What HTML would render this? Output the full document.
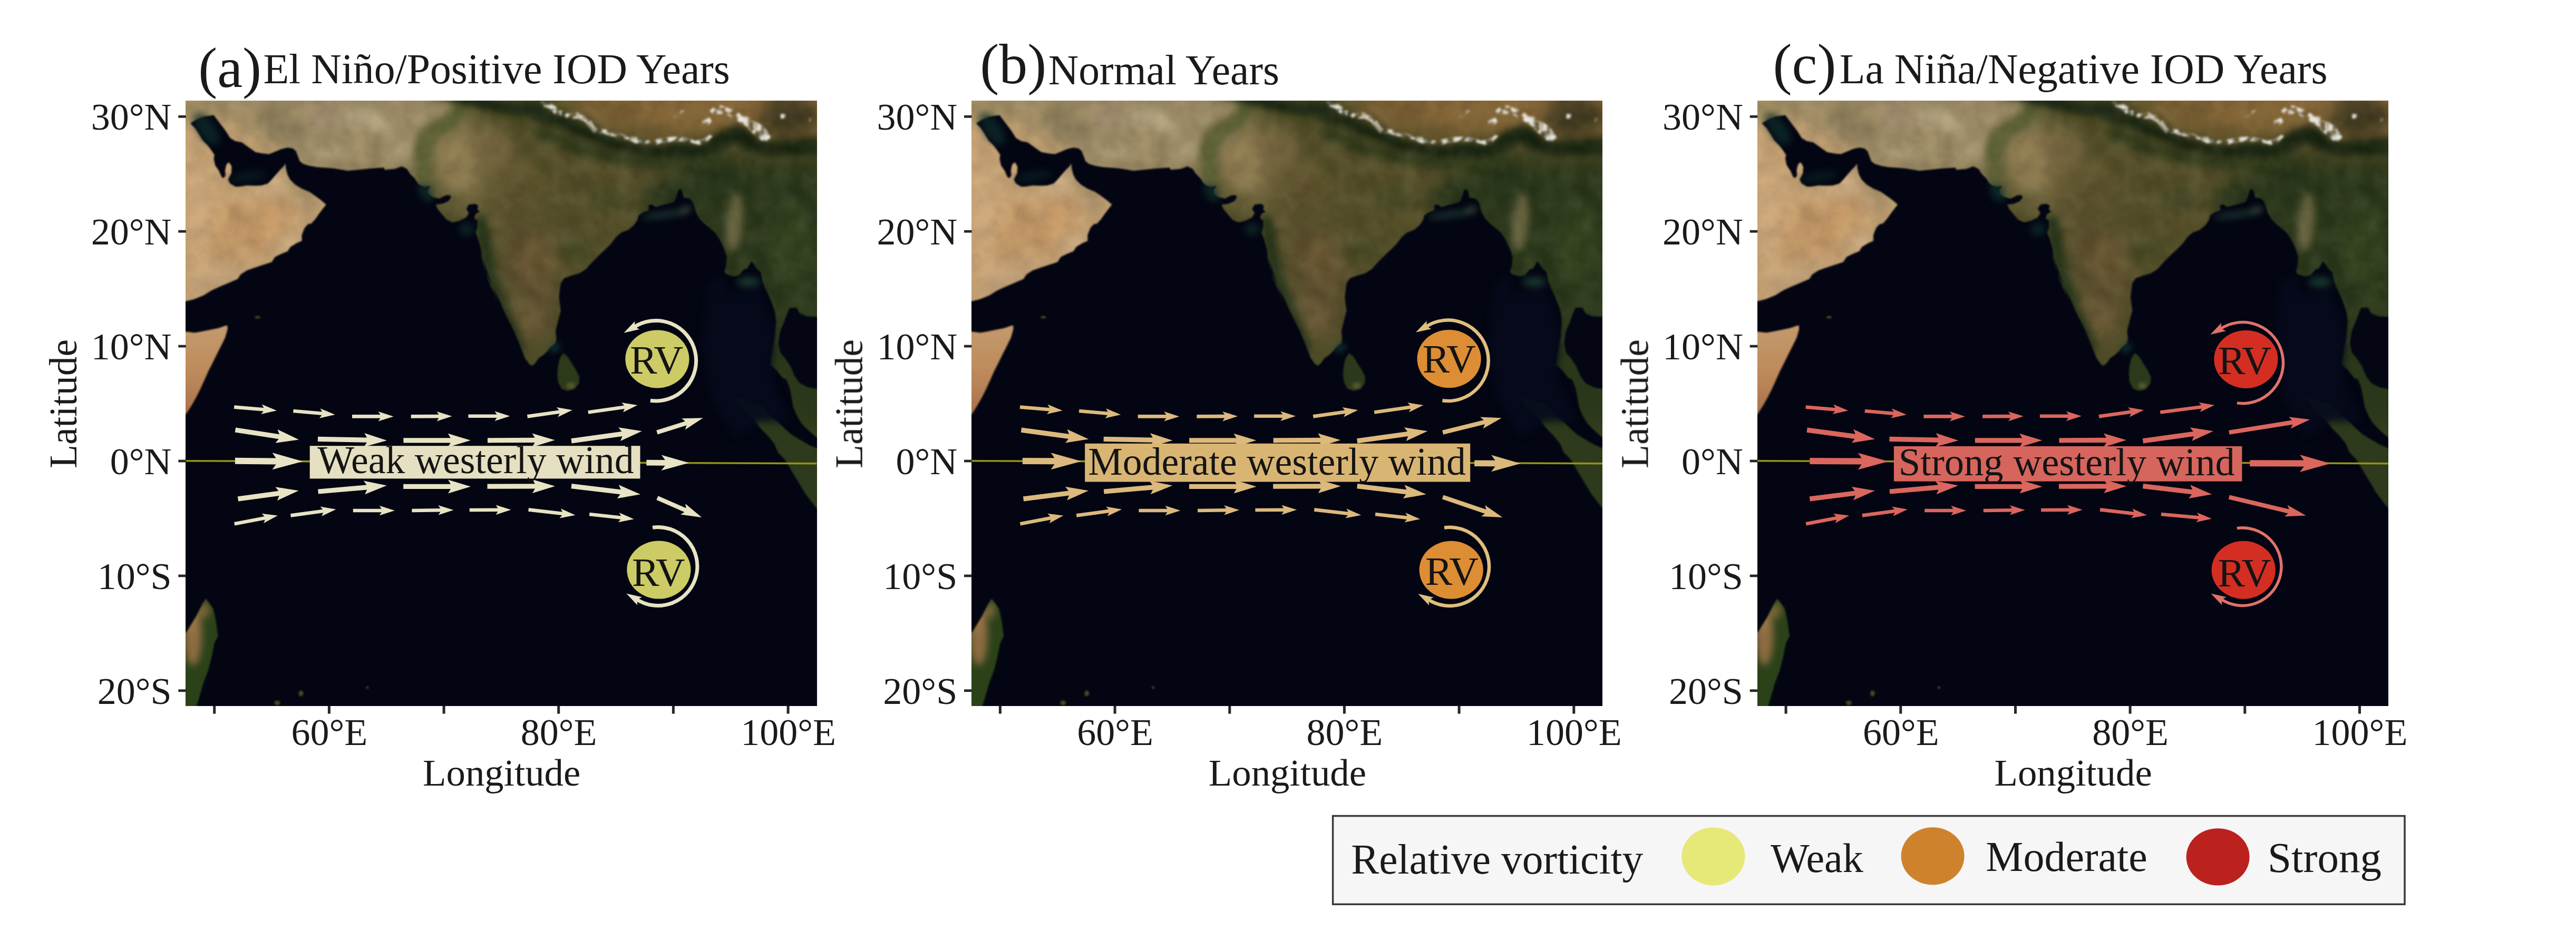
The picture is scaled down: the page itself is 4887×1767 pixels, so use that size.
<!DOCTYPE html>
<html><head><meta charset="utf-8"><title>figure</title>
<style>html,body{margin:0;padding:0;background:#fff;}svg{display:block;font-family:"Liberation Serif",serif;}</style>
</head><body>
<svg width="4887" height="1767" viewBox="0 0 4887 1767">
<defs>
<clipPath id="mapclip"><rect x="352.8" y="191.2" width="1196.5" height="1148.4"/></clipPath>
<filter id="b30" color-interpolation-filters="sRGB" x="-20%" y="-20%" width="140%" height="140%"><feGaussianBlur stdDeviation="30"/></filter>
<filter id="b14" color-interpolation-filters="sRGB" x="-20%" y="-20%" width="140%" height="140%"><feGaussianBlur stdDeviation="14"/></filter>
<filter id="b7" color-interpolation-filters="sRGB" x="-20%" y="-20%" width="140%" height="140%"><feGaussianBlur stdDeviation="7"/></filter>
<filter id="b3" color-interpolation-filters="sRGB" x="-20%" y="-20%" width="140%" height="140%"><feGaussianBlur stdDeviation="3"/></filter>
<filter id="b1" color-interpolation-filters="sRGB" x="-5%" y="-5%" width="110%" height="110%"><feGaussianBlur stdDeviation="1.4"/></filter>
<filter id="snowf" color-interpolation-filters="sRGB" x="-5%" y="-20%" width="110%" height="140%"><feTurbulence type="fractalNoise" baseFrequency="0.09" numOctaves="2" seed="11" result="t"/><feColorMatrix in="t" type="matrix" values="0 0 0 0 1  0 0 0 0 1  0 0 0 0 1  5 0 0 0 -1.85" result="m"/><feComposite in="SourceGraphic" in2="m" operator="in" result="c"/><feGaussianBlur in="c" stdDeviation="1.6"/></filter>
<filter id="tex" color-interpolation-filters="sRGB" x="0" y="0" width="100%" height="100%"><feTurbulence type="fractalNoise" baseFrequency="0.03" numOctaves="3" seed="7" result="n"/><feColorMatrix in="n" type="matrix" values="0 0 0 0 0  0 0 0 0 0  0 0 0 0 0  0.9 0.9 0 0 -0.62"/></filter>
<filter id="tex2" color-interpolation-filters="sRGB" x="0" y="0" width="100%" height="100%"><feTurbulence type="fractalNoise" baseFrequency="0.03" numOctaves="3" seed="23" result="n"/><feColorMatrix in="n" type="matrix" values="0 0 0 0 1  0 0 0 0 0.95  0 0 0 0 0.8  0.9 0.9 0 0 -0.68"/></filter>
<g id="map">
<g clip-path="url(#mapclip)">
<g filter="url(#b1)">
<rect x="342.8" y="181.2" width="1216" height="1168" fill="#4a4b24"/>
<g filter="url(#b30)">
<polygon points="298,138 563,138 563,287 659,358 659,641 298,641" fill="#c9a576"/>
<polygon points="389,138 904,138 866,229 814,274 801,358 563,358 511,274" fill="#9d8b64"/>
<polygon points="820,248 917,229 949,319 917,403 840,383" fill="#8c7a50"/>
<polygon points="1020,138 1607,138 1607,261 1394,261 1252,261 1123,235" fill="#8a6838"/>
<polygon points="904,216 1059,261 1284,300 1304,403 1188,461 1078,551 1059,706 930,551 930,403" fill="#554f29"/>
<polygon points="930,435 1059,435 1072,551 1027,680 969,602" fill="#5f5130"/>
<polygon points="1278,287 1607,306 1607,834 1478,834 1368,551 1297,403" fill="#2a371a"/>
</g>
<g filter="url(#b14)">
<ellipse cx="472.4" cy="434.9" rx="90.2" ry="61.2" fill="#c79a68" opacity="0.9" transform="rotate(-20 472.4 434.9)"/>
<ellipse cx="369.3" cy="402.7" rx="32.2" ry="109.6" fill="#d1ab7e" opacity="0.85"/>
<ellipse cx="511.1" cy="351.1" rx="35.4" ry="22.6" fill="#d0b189" opacity="0.75" transform="rotate(-30 511.1 351.1)"/>
<ellipse cx="582.0" cy="376.9" rx="29.0" ry="14.2" fill="#a58e68" opacity="0.9" transform="rotate(40 582.0 376.9)"/>
<ellipse cx="549.8" cy="460.7" rx="35.4" ry="19.3" fill="#cbae88" opacity="0.75" transform="rotate(-35 549.8 460.7)"/>
<ellipse cx="433.8" cy="525.1" rx="70.9" ry="22.6" fill="#c2a27a" opacity="0.9" transform="rotate(-22 433.8 525.1)"/>
<ellipse cx="375.8" cy="209.3" rx="38.7" ry="22.6" fill="#8f8359" opacity="0.9"/>
<ellipse cx="698.0" cy="228.7" rx="51.6" ry="19.3" fill="#beae8d" opacity="0.8" transform="rotate(15 698.0 228.7)"/>
<ellipse cx="620.7" cy="286.7" rx="58.0" ry="11.6" fill="#b3a280" opacity="0.8" transform="rotate(5 620.7 286.7)"/>
<ellipse cx="756.0" cy="286.7" rx="32.2" ry="12.9" fill="#bcac8b" opacity="0.8"/>
<ellipse cx="536.9" cy="241.6" rx="54.8" ry="24.5" fill="#8c7c5c" opacity="0.9" transform="rotate(25 536.9 241.6)"/>
<ellipse cx="614.2" cy="222.2" rx="25.8" ry="18.0" fill="#ad917f" opacity="0.8"/>
<ellipse cx="453.1" cy="215.8" rx="51.6" ry="19.3" fill="#9a8963" opacity="0.9" transform="rotate(25 453.1 215.8)"/>
<ellipse cx="794.7" cy="228.7" rx="22.6" ry="19.3" fill="#ad9d7b" opacity="0.7"/>
<ellipse cx="865.6" cy="299.6" rx="38.7" ry="48.3" fill="#958153" opacity="0.85" transform="rotate(15 865.6 299.6)"/>
<ellipse cx="930.0" cy="286.7" rx="45.1" ry="45.1" fill="#7d6c44" opacity="0.7"/>
<ellipse cx="981.6" cy="325.3" rx="38.7" ry="25.8" fill="#6a5c36" opacity="0.6"/>
<ellipse cx="994.5" cy="357.6" rx="38.7" ry="25.8" fill="#62532e" opacity="0.8"/>
<ellipse cx="1091.1" cy="402.7" rx="45.1" ry="25.8" fill="#525028" opacity="0.8"/>
<ellipse cx="1155.6" cy="376.9" rx="38.7" ry="19.3" fill="#444a25" opacity="0.8"/>
<ellipse cx="949.3" cy="402.7" rx="19.3" ry="38.7" fill="#5e5130" opacity="0.8"/>
<ellipse cx="1013.8" cy="492.9" rx="32.2" ry="38.7" fill="#6f5b35" opacity="0.9"/>
<ellipse cx="1004.1" cy="602.5" rx="24.5" ry="38.7" fill="#6c5a35" opacity="0.9"/>
<ellipse cx="1091.1" cy="473.6" rx="32.2" ry="22.6" fill="#434a24" opacity="0.85"/>
<ellipse cx="1278.0" cy="383.3" rx="58.0" ry="45.1" fill="#28361a" opacity="0.95"/>
<ellipse cx="1355.3" cy="338.2" rx="38.7" ry="25.8" fill="#243117" opacity="0.9"/>
<ellipse cx="1503.6" cy="460.7" rx="45.1" ry="77.3" fill="#33421f" opacity="0.9"/>
<ellipse cx="1510.0" cy="602.5" rx="32.2" ry="58.0" fill="#2f3d1d" opacity="0.9"/>
<ellipse cx="1155.6" cy="215.8" rx="51.6" ry="16.1" fill="#735a30" opacity="0.8" transform="rotate(10 1155.6 215.8)"/>
<ellipse cx="1316.7" cy="222.2" rx="58.0" ry="19.3" fill="#866a3a" opacity="0.8"/>
<ellipse cx="1497.1" cy="222.2" rx="58.0" ry="38.7" fill="#3e381e" opacity="0.95"/>
</g>
<g filter="url(#b7)">
<polygon points="869,184 911,184 872,238 830,264 817,300 824,345 795,345 783,293 796,248 843,219" fill="#5c6034"/>
<polygon points="810,181 927,181 950,195 1025,195 1052,216 1090,225 1122,248 1160,258 1206,272 1239,277 1276,270 1327,275 1351,259 1369,248 1393,237 1407,237 1425,251 1444,267 1462,270 1486,267 1556,260 1556,295 1486,295 1451,297 1416,285 1393,274 1369,288 1323,298 1276,298 1236,298 1183,289 1136,275 1090,256 1043,238 997,221 950,213 880,199" fill="#17230f"/>
<polygon points="1020,237 1113,274 1206,297 1299,302 1369,292 1369,320 1276,325 1183,316 1090,292 1020,260" fill="#2f3a1a" opacity="0.9"/>
<polygon points="898,409 920,409 938,499 967,590 998,664 978,670 946,596 917,512" fill="#27351a"/>
<ellipse cx="1394.0" cy="422.0" rx="15.5" ry="54.8" fill="#6a6640" opacity="0.95" transform="rotate(5 1394.0 422.0)"/>
<ellipse cx="1090" cy="206" rx="5" ry="3.5" fill="#3a3020" opacity="0.7"/>
<ellipse cx="1148" cy="197" rx="5" ry="3.5" fill="#3a3020" opacity="0.7"/>
<ellipse cx="1181" cy="200" rx="5" ry="3.5" fill="#3a3020" opacity="0.7"/>
<ellipse cx="1199" cy="212" rx="5" ry="3.5" fill="#3a3020" opacity="0.7"/>
<ellipse cx="1206" cy="196" rx="5" ry="3.5" fill="#3a3020" opacity="0.7"/>
<ellipse cx="1288" cy="205" rx="5" ry="3.5" fill="#3a3020" opacity="0.7"/>
</g>
<rect x="352.8" y="191.2" width="1196" height="460" filter="url(#tex)" opacity="0.17"/>
<rect x="352.8" y="191.2" width="1196" height="460" filter="url(#tex2)" opacity="0.10"/>
<g filter="url(#snowf)" fill="#f0f0ec" opacity="0.95">
<polygon points="1025,193 1039,195 1052,199 1059,209 1071,211 1080,216 1094,213 1108,218 1113,225 1122,230 1127,239 1136,245 1150,246 1164,251 1178,254 1192,258 1206,260 1218,266 1236,267 1253,263 1271,260 1288,259 1304,262 1318,267 1332,265 1346,256 1352,258 1344,267 1327,275 1309,270 1292,268 1276,269 1257,270 1239,277 1225,272 1206,272 1192,265 1174,260 1160,258 1143,253 1127,252 1118,241 1111,232 1099,225 1087,225 1076,223 1062,218 1052,216 1043,206 1032,202" fill="#f0f0ec"/>
<polygon points="1346,211 1355,202 1369,200 1383,206 1397,211 1407,218 1421,223 1434,230 1446,239 1455,248 1462,260 1458,269 1444,267 1437,258 1425,251 1418,241 1407,234 1393,225 1379,218 1365,216 1355,218" fill="#f0f0ec"/>
<polygon points="1332,230 1346,223 1351,232 1341,239 1332,237" fill="#f0f0ec"/>
<polygon points="1276,223 1292,210 1299,209 1285,220 1278,226" fill="#f0f0ec"/>
<polygon points="1481,216 1490,217 1489,225 1481,225" fill="#f0f0ec"/>
<polygon points="1535,223 1540,223 1539,234 1535,233" fill="#f0f0ec"/>
</g>
<g filter="url(#b3)">
<ellipse cx="1090" cy="219" rx="4" ry="5" fill="#8a6a3a" opacity="0.85"/>
<ellipse cx="1132" cy="242" rx="4" ry="5" fill="#3a4020" opacity="0.85"/>
<ellipse cx="1171" cy="256" rx="4" ry="5" fill="#6a5530" opacity="0.85"/>
<ellipse cx="1218" cy="268" rx="4" ry="5" fill="#2a3818" opacity="0.85"/>
<ellipse cx="1262" cy="266" rx="4" ry="5" fill="#5a4a28" opacity="0.85"/>
<ellipse cx="1299" cy="265" rx="4" ry="5" fill="#2a3818" opacity="0.85"/>
<ellipse cx="1337" cy="268" rx="4" ry="5" fill="#5a4a28" opacity="0.85"/>
<ellipse cx="1388" cy="216" rx="4" ry="5" fill="#5a4a2a" opacity="0.85"/>
<ellipse cx="1423" cy="234" rx="4" ry="5" fill="#4a4226" opacity="0.85"/>
<ellipse cx="1446" cy="253" rx="4" ry="5" fill="#3a3a20" opacity="0.85"/>
</g>
<polygon points="352.6,571.7 367.2,568.2 386.5,560.5 401.6,551.0 418.8,543.3 436.0,536.0 451.0,529.5 456.6,520.9 468.2,513.2 483.2,508.0 498.3,502.9 515.5,497.3 521.9,487.4 532.7,482.3 545.6,477.1 551.1,468.5 562.7,461.6 572.6,457.3 572.6,445.7 577.8,432.8 584.2,425.5 590.7,424.2 598.4,415.6 605.7,404.9 613.0,395.4 618.6,388.6 618.1,387.7 609.5,380.3 599.6,372.9 587.2,364.2 572.4,358.0 560.0,350.6 550.2,340.7 545.2,330.9 542.7,321.0 541.5,310.6 537.8,316.0 530.4,323.4 523.0,332.1 515.6,340.7 508.2,348.2 495.8,351.9 483.4,352.6 468.6,351.9 453.8,354.3 446.4,354.3 436.5,348.2 432.8,340.7 435.3,335.8 439.0,328.4 439.5,316.0 435.3,309.1 432.8,308.6 429.1,313.6 427.1,323.4 427.8,333.3 424.1,338.3 420.4,335.8 415.5,324.7 408.1,313.6 405.6,301.2 406.8,293.8 401.9,286.4 394.5,276.5 384.6,266.6 377.2,254.2 369.8,243.1 361.1,234.0 372.2,227.1 387.1,220.9 405.6,218.4 411.8,227.1 420.4,238.2 427.8,248.1 436.5,261.7 446.4,267.8 458.7,270.3 471.1,279.0 484.7,288.8 498.3,291.3 510.6,292.6 523.0,287.6 534.1,282.7 545.2,280.2 555.1,281.4 561.3,286.4 565.0,296.3 568.7,306.1 574.9,311.1 587.2,314.8 602.1,317.3 619.4,318.5 634.2,319.7 659.5,324.1 676.6,322.4 702.4,319.8 728.2,318.1 730.0,322.2 749.3,320.6 762.2,315.8 771.9,320.6 778.3,330.3 786.4,338.3 792.8,348.0 799.3,352.8 807.3,354.4 817.0,352.8 812.2,359.3 812.2,367.3 820.2,373.8 833.1,377.0 846.0,370.6 854.1,370.6 855.7,374.4 850.8,381.8 839.6,386.7 826.7,388.3 829.9,396.3 837.9,406.0 847.6,417.3 858.9,422.1 871.8,418.9 884.7,412.5 889.5,404.4 884.7,396.3 889.5,388.3 900.8,386.7 907.2,389.9 905.6,397.9 910.5,401.2 902.4,406.0 899.2,414.1 905.6,418.9 905.6,431.8 902.4,441.5 907.2,454.3 912.1,470.5 915.3,489.8 920.1,509.1 925.0,528.5 931.4,544.6 939.5,560.7 945.9,576.8 912.2,480.0 915.4,496.1 920.3,512.2 928.3,531.6 938.0,550.9 947.7,570.2 955.7,589.6 965.4,608.9 975.1,628.2 983.1,647.6 989.6,663.7 996.0,679.8 1004.1,691.1 1008.9,694.3 1015.3,689.5 1021.8,679.8 1031.5,673.3 1037.9,666.9 1044.3,658.8 1054.0,650.8 1055.6,641.1 1054.0,628.2 1057.2,615.3 1060.5,602.5 1063.7,589.6 1062.1,576.7 1060.5,563.8 1062.1,550.9 1063.7,538.0 1070.1,528.3 1083.0,523.5 1099.1,518.7 1112.0,510.6 1121.7,499.3 1131.3,489.7 1141.0,480.0 1133.8,486.3 1146.7,475.0 1159.6,462.1 1169.2,449.2 1178.9,441.2 1191.8,436.4 1203.1,426.7 1209.5,417.0 1211.1,409.0 1220.8,402.5 1230.5,399.3 1230.5,389.6 1236.9,388.0 1243.4,392.8 1256.3,389.6 1269.1,386.4 1278.8,383.2 1283.7,371.9 1286.9,360.6 1291.7,359.0 1294.9,365.5 1296.5,375.1 1307.8,376.7 1314.3,383.2 1317.5,392.8 1320.7,404.1 1327.2,415.4 1336.8,425.1 1346.5,433.1 1356.2,441.2 1364.2,452.5 1374.1,472.9 1378.9,489.0 1377.3,505.1 1374.1,516.4 1378.9,521.2 1391.8,524.4 1401.5,522.8 1411.1,511.6 1417.6,509.9 1425.6,495.4 1430.5,501.9 1436.9,511.6 1443.3,516.4 1446.6,534.1 1451.4,547.0 1459.5,563.1 1465.9,579.2 1470.7,595.3 1472.3,611.5 1470.7,627.6 1469.1,643.7 1465.9,659.8 1462.7,679.1 1461.1,692.0 1472.3,701.7 1485.2,717.8 1491.7,720.0 1498.1,736.1 1501.3,752.2 1504.6,771.6 1511.0,787.7 1520.7,803.8 1533.6,816.7 1549.4,830.5 1554.3,830.0 1554.3,1344.6 347.8,1344.6 347.8,571.0" fill="#030512"/>
<polygon points="1498.1,584.1 1511.0,584.1 1517.5,595.3 1530.3,600.2 1554.5,601.8 1554.5,738.7 1533.6,735.5 1517.5,727.5 1507.8,714.6 1499.7,695.2 1490.1,680.7 1480.4,669.5 1476.5,650.1 1480.4,627.6 1488.5,608.2 1493.3,595.3" fill="#040614"/>
<linearGradient id="gsom" x1="0" y1="0" x2="0" y2="1"><stop offset="0" stop-color="#c49a6c"/><stop offset="0.5" stop-color="#bd8a5c"/><stop offset="1" stop-color="#a8704a"/></linearGradient>
<polygon points="343.6,628.3 353.2,629.6 369.3,631.5 382.2,629.3 398.3,626.1 414.4,622.8 427.3,618.3 431.2,617.4 431.8,624.4 427.3,640.6 419.3,656.7 411.2,672.8 403.2,688.9 395.1,705.0 388.0,721.1 380.6,737.2 372.6,753.3 364.5,767.8 356.4,780.7 352.6,786.2 343.6,795.2" fill="url(#gsom)"/>
<clipPath id="cmad"><polygon points="343.6,1207.6 354.8,1197.9 362.9,1185.0 372.6,1168.9 382.2,1149.6 390.3,1136.0 398.3,1146.3 404.8,1156.0 409.6,1178.6 413.5,1207.6 406.7,1220.5 401.6,1246.2 395.1,1272.0 385.4,1297.8 379.0,1320.3 372.6,1341.3 369.3,1349.3 343.6,1349.3"/></clipPath>
<polygon points="343.6,1207.6 354.8,1197.9 362.9,1185.0 372.6,1168.9 382.2,1149.6 390.3,1136.0 398.3,1146.3 404.8,1156.0 409.6,1178.6 413.5,1207.6 406.7,1220.5 401.6,1246.2 395.1,1272.0 385.4,1297.8 379.0,1320.3 372.6,1341.3 369.3,1349.3 343.6,1349.3" fill="#2b4219"/>
<g clip-path="url(#cmad)"><g filter="url(#b7)"><ellipse cx="366" cy="1205" rx="17" ry="58" fill="#8e6c42"/><ellipse cx="388" cy="1158" rx="9" ry="16" fill="#80683c"/><ellipse cx="362" cy="1180" rx="12" ry="22" fill="#9a7648"/></g></g>
<polygon points="1068.5,670.1 1076.6,676.6 1084.6,689.5 1092.7,702.3 1099.1,715.2 1098.5,728.1 1089.5,737.8 1076.6,741.7 1065.3,737.8 1058.8,724.9 1057.2,708.8 1058.8,692.7 1062.1,679.8" fill="#2c3a1b"/>
<ellipse cx="1083" cy="732" rx="8" ry="6" fill="#5c5c30" filter="url(#b3)"/>
<polygon points="1395.0,755.4 1404.7,757.1 1420.8,761.9 1436.9,765.1 1449.8,774.8 1459.5,787.7 1475.6,800.6 1488.5,813.4 1501.3,824.7 1517.5,834.4 1533.6,844.1 1554.5,852.8 1554.5,971.3 1549.4,964.9 1536.8,948.8 1527.1,935.9 1517.5,919.8 1507.8,903.7 1498.1,887.6 1488.5,871.5 1475.6,858.6 1469.1,842.5 1456.2,826.3 1443.3,813.4 1430.5,797.3 1414.3,781.2 1401.5,768.3" fill="#2d3b1c"/>
<ellipse cx="571" cy="1316" rx="4.5" ry="5.5" fill="#4c4c22" opacity="0.9"/>
<ellipse cx="526" cy="1334" rx="5.5" ry="4.5" fill="#4c4c22" opacity="0.9"/>
<ellipse cx="697" cy="1305" rx="2.5" ry="2.5" fill="#4c4c22" opacity="0.9"/>
<ellipse cx="488.6" cy="602" rx="5" ry="2.5" fill="#4c4c22" opacity="0.9"/>
<g filter="url(#b7)">
<polygon points="1345,540 1372,520 1380,560 1440,545 1470,640 1462,720 1500,800 1440,800 1395,830 1352,760 1332,660" fill="#060a1c" opacity="0.9"/>
<ellipse cx="392" cy="245" rx="16" ry="36" fill="#0c2c2a" opacity="0.75" transform="rotate(-35 392 245)"/>
<ellipse cx="470" cy="335" rx="36" ry="10" fill="#0a2424" opacity="0.6" transform="rotate(-10 470 335)"/>
<ellipse cx="808" cy="365" rx="12" ry="20" fill="#10342e" opacity="0.7" transform="rotate(-30 808 365)"/>
<ellipse cx="885" cy="435" rx="14" ry="12" fill="#10302a" opacity="0.7"/>
<ellipse cx="1262" cy="407" rx="46" ry="5" fill="#24483a" opacity="0.8" transform="rotate(-8 1262 407)"/>
<ellipse cx="1300" cy="398" rx="12" ry="4" fill="#6f7a5a" opacity="0.7" transform="rotate(-20 1300 398)"/>
<ellipse cx="1420" cy="535" rx="22" ry="9" fill="#1c4434" opacity="0.85"/>
<ellipse cx="1052" cy="660" rx="10" ry="6" fill="#165048" opacity="0.9" transform="rotate(-30 1052 660)"/>
</g>
</g>
</g>
</g>
</defs>
<g transform="translate(0,0)">
<use href="#map"/>
<g fill="#262626"><rect x="338.3" y="218.9" width="14.5" height="4.8"/><rect x="338.3" y="436.8" width="14.5" height="4.8"/><rect x="338.3" y="654.7" width="14.5" height="4.8"/><rect x="338.3" y="872.6" width="14.5" height="4.8"/><rect x="338.3" y="1090.5" width="14.5" height="4.8"/><rect x="338.3" y="1308.4" width="14.5" height="4.8"/><rect x="404.2" y="1339.6" width="5" height="15"/><rect x="621.9" y="1339.6" width="5" height="15"/><rect x="839.6" y="1339.6" width="5" height="15"/><rect x="1057.2" y="1339.6" width="5" height="15"/><rect x="1274.9" y="1339.6" width="5" height="15"/><rect x="1492.6" y="1339.6" width="5" height="15"/></g>
<g font-size="72" fill="#1a1a1a">
<text x="325.5" y="246.2" text-anchor="end">30°N</text>
<text x="325.5" y="464.1" text-anchor="end">20°N</text>
<text x="325.5" y="682.0" text-anchor="end">10°N</text>
<text x="325.5" y="899.9" text-anchor="end">0°N</text>
<text x="325.5" y="1117.8" text-anchor="end">10°S</text>
<text x="325.5" y="1335.7" text-anchor="end">20°S</text>
<text x="624.9" y="1413.8" text-anchor="middle">60°E</text>
<text x="1060.2" y="1413.8" text-anchor="middle">80°E</text>
<text x="1495.6" y="1413.8" text-anchor="middle">100°E</text>
<text x="951.7" y="1491.4" text-anchor="middle" font-size="72.8">Longitude</text>
<text transform="translate(145.0,766.4) rotate(-90)" text-anchor="middle" font-size="73.5">Latitude</text>
</g>
<text x="376.2" y="165.0" font-size="108" fill="#1a1a1a">(a)</text>
<text x="499.4" y="157.6" font-size="79.7" fill="#1a1a1a">El Niño/Positive IOD Years</text>
<line x1="352.8" y1="874.7" x2="1549.3" y2="879.7" stroke="#929218" stroke-width="3.6"/>
<g fill="#e7e3c4">
<polygon points="443.9,775.9 499.8,780.5 495.3,786.1 525.0,779.2 496.8,767.6 500.4,773.9 444.5,769.3"/>
<polygon points="556.1,783.3 610.4,788.1 605.9,793.7 635.6,787.0 607.5,775.2 611.0,781.5 556.7,776.7"/>
<polygon points="668.0,793.7 721.6,793.7 717.6,799.6 746.6,790.4 717.6,781.1 721.6,787.1 668.0,787.1"/>
<polygon points="779.7,793.7 832.5,793.4 828.5,799.4 857.5,790.0 828.5,780.9 832.5,786.8 779.7,787.1"/>
<polygon points="888.5,793.1 942.5,793.1 938.5,799.0 967.5,789.8 938.5,780.5 942.5,786.5 888.5,786.5"/>
<polygon points="1001.0,793.7 1061.5,785.0 1058.4,791.5 1085.8,778.2 1055.8,773.1 1060.6,778.5 1000.0,787.1"/>
<polygon points="1116.3,785.8 1185.0,775.9 1181.9,782.4 1209.3,769.1 1179.3,764.1 1184.1,769.4 1115.3,779.2"/>
<polygon points="445.3,997.4 502.9,986.4 500.1,993.0 526.8,978.4 496.6,974.8 501.6,979.9 444.1,991.0"/>
<polygon points="551.9,981.7 613.2,973.3 610.0,979.8 637.5,966.7 607.5,961.4 612.3,966.8 551.1,975.1"/>
<polygon points="669.8,972.3 723.8,972.3 719.8,978.2 748.8,969.0 719.8,959.8 723.8,965.7 669.8,965.7"/>
<polygon points="781.4,972.3 835.5,971.6 831.6,977.6 860.5,968.0 831.4,959.1 835.5,965.0 781.4,965.7"/>
<polygon points="890.7,971.3 944.5,971.0 940.5,977.0 969.5,967.6 940.5,958.5 944.5,964.4 890.7,964.7"/>
<polygon points="1002.2,970.7 1066.3,978.1 1061.6,983.6 1091.5,977.7 1063.8,965.2 1067.0,971.5 1003.0,964.1"/>
<polygon points="1117.8,979.3 1177.4,985.8 1172.8,991.3 1202.6,985.3 1174.8,972.9 1178.1,979.3 1118.6,972.7"/>
<polygon points="445.7,820.6 528.7,833.2 522.5,840.8 567.0,834.4 526.4,815.1 530.1,824.2 447.1,811.6"/>
<polygon points="602.9,838.0 695.9,839.8 690.8,848.1 734.0,836.0 691.3,822.1 696.1,830.6 603.1,828.8"/>
<polygon points="765.4,840.4 854.8,840.4 849.8,848.8 892.8,835.8 849.8,822.8 854.8,831.2 765.4,831.2"/>
<polygon points="925.0,840.4 1014.6,840.0 1009.7,848.5 1052.6,835.3 1009.5,822.5 1014.6,830.8 925.0,831.2"/>
<polygon points="1084.6,841.4 1180.7,828.0 1176.9,837.0 1217.7,818.2 1173.3,811.2 1179.4,818.9 1083.4,832.2"/>
<polygon points="452.1,951.4 529.7,940.9 525.8,949.9 566.7,931.3 522.4,924.2 528.4,931.8 450.9,942.2"/>
<polygon points="603.9,937.6 696.3,929.5 692.1,938.3 733.8,921.6 689.8,912.4 695.5,920.3 603.1,928.4"/>
<polygon points="765.2,928.0 855.0,928.0 850.0,936.4 893.0,923.4 850.0,910.4 855.0,918.8 765.2,918.8"/>
<polygon points="924.5,927.8 1015.0,927.5 1010.0,935.9 1053.0,922.8 1010.0,909.9 1015.0,918.3 924.5,918.6"/>
<polygon points="1083.5,927.3 1176.7,938.3 1170.8,946.1 1215.0,938.2 1173.8,920.2 1177.8,929.2 1084.5,918.1"/>
<polygon points="1247.6,824.6 1302.5,807.3 1299.9,815.6 1333.7,793.2 1293.1,794.2 1300.0,799.5 1245.2,816.8"/>
<polygon points="1245.4,948.8 1298.5,972.0 1291.1,976.6 1331.3,981.9 1300.1,956.0 1301.8,964.5 1248.6,941.2"/>
<polygon points="446.0,880.8 523.5,881.4 516.4,891.3 574.5,875.8 516.6,859.3 523.5,869.4 446.0,868.8"/>
<polygon points="1226.4,883.5 1261.7,883.7 1254.6,893.1 1307.1,878.6 1254.8,863.4 1261.8,872.9 1226.4,872.7"/>
</g>
<rect x="587.7" y="846.2" width="626.8" height="62.2" fill="#e4e0c1"/>
<text x="902.5" y="897.5" font-size="73.75" text-anchor="middle" fill="#141414">Weak westerly wind</text>
<ellipse cx="1246.9" cy="681.4" rx="60.6" ry="55" fill="#cccb66"/>
<path d="M1233.9,760.2 A76.2,76.2 0 1 0 1201.9,621.5" fill="none" stroke="#e7e3c4" stroke-width="7"/><polygon points="1204.4,609.7 1183.5,631.7 1213.1,625.1 1203.9,620.1" fill="#e7e3c4"/>
<text x="1245.7" y="709.4" font-size="77" text-anchor="middle" fill="#141414">RV</text>
<ellipse cx="1249.9" cy="1081.6" rx="60.6" ry="55" fill="#cccb66"/>
<path d="M1238.1,1001.2 A74.5,74.5 0 1 1 1206.8,1136.8" fill="none" stroke="#e7e3c4" stroke-width="7"/><polygon points="1217.9,1133.2 1188.3,1126.5 1209.2,1148.5 1208.8,1138.1" fill="#e7e3c4"/>
<text x="1249.3" y="1111.7" font-size="77" text-anchor="middle" fill="#141414">RV</text>
</g>
<g transform="translate(1490.7,0)">
<use href="#map"/>
<g fill="#262626"><rect x="338.3" y="218.9" width="14.5" height="4.8"/><rect x="338.3" y="436.8" width="14.5" height="4.8"/><rect x="338.3" y="654.7" width="14.5" height="4.8"/><rect x="338.3" y="872.6" width="14.5" height="4.8"/><rect x="338.3" y="1090.5" width="14.5" height="4.8"/><rect x="338.3" y="1308.4" width="14.5" height="4.8"/><rect x="404.2" y="1339.6" width="5" height="15"/><rect x="621.9" y="1339.6" width="5" height="15"/><rect x="839.6" y="1339.6" width="5" height="15"/><rect x="1057.2" y="1339.6" width="5" height="15"/><rect x="1274.9" y="1339.6" width="5" height="15"/><rect x="1492.6" y="1339.6" width="5" height="15"/></g>
<g font-size="72" fill="#1a1a1a">
<text x="325.5" y="246.2" text-anchor="end">30°N</text>
<text x="325.5" y="464.1" text-anchor="end">20°N</text>
<text x="325.5" y="682.0" text-anchor="end">10°N</text>
<text x="325.5" y="899.9" text-anchor="end">0°N</text>
<text x="325.5" y="1117.8" text-anchor="end">10°S</text>
<text x="325.5" y="1335.7" text-anchor="end">20°S</text>
<text x="624.9" y="1413.8" text-anchor="middle">60°E</text>
<text x="1060.2" y="1413.8" text-anchor="middle">80°E</text>
<text x="1495.6" y="1413.8" text-anchor="middle">100°E</text>
<text x="951.7" y="1491.4" text-anchor="middle" font-size="72.8">Longitude</text>
<text transform="translate(145.0,766.4) rotate(-90)" text-anchor="middle" font-size="73.5">Latitude</text>
</g>
<text x="368.6" y="157.8" font-size="108" fill="#1a1a1a">(b)</text>
<text x="498.0" y="160.0" font-size="79.7" fill="#1a1a1a">Normal Years</text>
<line x1="352.8" y1="874.7" x2="1549.3" y2="879.7" stroke="#929218" stroke-width="3.6"/>
<g fill="#dcb97c">
<polygon points="443.9,775.9 499.8,780.5 495.3,786.1 525.0,779.2 496.8,767.6 500.4,773.9 444.5,769.3"/>
<polygon points="556.1,783.3 610.4,788.1 605.9,793.7 635.6,787.0 607.5,775.2 611.0,781.5 556.7,776.7"/>
<polygon points="668.0,793.7 721.6,793.7 717.6,799.6 746.6,790.4 717.6,781.1 721.6,787.1 668.0,787.1"/>
<polygon points="779.7,793.7 832.5,793.4 828.5,799.4 857.5,790.0 828.5,780.9 832.5,786.8 779.7,787.1"/>
<polygon points="888.5,793.1 942.5,793.1 938.5,799.0 967.5,789.8 938.5,780.5 942.5,786.5 888.5,786.5"/>
<polygon points="1001.0,793.7 1061.5,785.0 1058.4,791.5 1085.8,778.2 1055.8,773.1 1060.6,778.5 1000.0,787.1"/>
<polygon points="1117.0,785.8 1185.3,775.9 1182.2,782.4 1209.6,769.1 1179.6,764.1 1184.4,769.4 1116.0,779.2"/>
<polygon points="445.3,997.4 502.9,986.4 500.1,993.0 526.8,978.4 496.6,974.8 501.6,979.9 444.1,991.0"/>
<polygon points="551.9,981.7 613.2,973.3 610.0,979.8 637.5,966.7 607.5,961.4 612.3,966.8 551.1,975.1"/>
<polygon points="669.8,972.3 723.8,972.3 719.8,978.2 748.8,969.0 719.8,959.8 723.8,965.7 669.8,965.7"/>
<polygon points="781.4,972.3 835.5,971.6 831.6,977.6 860.5,968.0 831.4,959.1 835.5,965.0 781.4,965.7"/>
<polygon points="890.7,971.3 944.5,971.0 940.5,977.0 969.5,967.6 940.5,958.5 944.5,964.4 890.7,964.7"/>
<polygon points="1002.2,970.7 1066.3,978.1 1061.6,983.6 1091.5,977.7 1063.8,965.2 1067.0,971.5 1003.0,964.1"/>
<polygon points="1118.0,979.3 1178.3,985.9 1173.7,991.3 1203.5,985.3 1175.7,973.0 1179.0,979.3 1118.8,972.7"/>
<polygon points="446.1,820.8 536.3,832.9 530.3,840.6 574.6,833.4 533.7,814.8 537.6,823.8 447.3,811.6"/>
<polygon points="602.9,838.0 695.9,839.8 690.8,848.1 734.0,836.0 691.3,822.1 696.1,830.6 603.1,828.8"/>
<polygon points="765.4,840.4 854.8,840.4 849.8,848.8 892.8,835.8 849.8,822.8 854.8,831.2 765.4,831.2"/>
<polygon points="925.0,840.4 1014.6,840.0 1009.7,848.5 1052.6,835.3 1009.5,822.5 1014.6,830.8 925.0,831.2"/>
<polygon points="1084.6,841.4 1180.7,828.0 1176.9,837.0 1217.7,818.2 1173.3,811.2 1179.4,818.9 1083.4,832.2"/>
<polygon points="451.4,951.4 537.5,940.6 533.5,949.5 574.6,931.3 530.3,923.7 536.3,931.5 450.2,942.2"/>
<polygon points="603.9,937.6 696.3,929.5 692.1,938.3 733.8,921.6 689.8,912.4 695.5,920.3 603.1,928.4"/>
<polygon points="765.2,928.0 855.0,928.0 850.0,936.4 893.0,923.4 850.0,910.4 855.0,918.8 765.2,918.8"/>
<polygon points="924.5,927.8 1015.0,927.5 1010.0,935.9 1053.0,922.8 1010.0,909.9 1015.0,918.3 924.5,918.6"/>
<polygon points="1083.5,927.3 1176.7,938.3 1170.8,946.1 1215.0,938.2 1173.8,920.2 1177.8,929.2 1084.5,918.1"/>
<polygon points="1247.4,824.7 1326.1,805.3 1322.9,813.4 1358.1,793.2 1317.5,791.6 1324.1,797.3 1245.4,816.7"/>
<polygon points="1245.1,947.3 1326.3,974.9 1319.3,980.0 1359.8,981.9 1326.5,958.7 1328.9,967.1 1247.7,939.5"/>
<polygon points="449.1,881.0 509.8,881.3 502.7,891.3 560.8,875.6 502.9,859.3 509.8,869.3 449.1,869.0"/>
<polygon points="1306.5,885.0 1345.8,885.2 1338.3,895.3 1394.1,879.7 1338.4,863.6 1345.8,873.7 1306.5,873.6"/>
</g>
<rect x="567.5" y="841.8" width="731.0" height="72.7" fill="#d9b574"/>
<text x="931.9" y="900.8" font-size="73.77" text-anchor="middle" fill="#141414">Moderate westerly wind</text>
<ellipse cx="1258.4" cy="681.1" rx="60.6" ry="55" fill="#dd8d34"/>
<path d="M1245.7,760.3 A76.7,76.7 0 1 0 1213.5,620.7" fill="none" stroke="#e0be7d" stroke-width="6.5"/><polygon points="1216.0,608.9 1195.1,630.8 1224.7,624.2 1215.6,619.3" fill="#e0be7d"/>
<text x="1258.4" y="706.6" font-size="77" text-anchor="middle" fill="#141414">RV</text>
<ellipse cx="1262.5" cy="1081.7" rx="60.6" ry="55" fill="#dd8d34"/>
<path d="M1249.3,1001.5 A74.6,74.6 0 1 1 1218.0,1137.2" fill="none" stroke="#e0be7d" stroke-width="6.5"/><polygon points="1229.0,1133.7 1199.5,1127.0 1220.4,1149.0 1219.9,1138.6" fill="#e0be7d"/>
<text x="1263.7" y="1109.5" font-size="77" text-anchor="middle" fill="#141414">RV</text>
</g>
<g transform="translate(2981.4,0)">
<use href="#map"/>
<g fill="#262626"><rect x="338.3" y="218.9" width="14.5" height="4.8"/><rect x="338.3" y="436.8" width="14.5" height="4.8"/><rect x="338.3" y="654.7" width="14.5" height="4.8"/><rect x="338.3" y="872.6" width="14.5" height="4.8"/><rect x="338.3" y="1090.5" width="14.5" height="4.8"/><rect x="338.3" y="1308.4" width="14.5" height="4.8"/><rect x="404.2" y="1339.6" width="5" height="15"/><rect x="621.9" y="1339.6" width="5" height="15"/><rect x="839.6" y="1339.6" width="5" height="15"/><rect x="1057.2" y="1339.6" width="5" height="15"/><rect x="1274.9" y="1339.6" width="5" height="15"/><rect x="1492.6" y="1339.6" width="5" height="15"/></g>
<g font-size="72" fill="#1a1a1a">
<text x="325.5" y="246.2" text-anchor="end">30°N</text>
<text x="325.5" y="464.1" text-anchor="end">20°N</text>
<text x="325.5" y="682.0" text-anchor="end">10°N</text>
<text x="325.5" y="899.9" text-anchor="end">0°N</text>
<text x="325.5" y="1117.8" text-anchor="end">10°S</text>
<text x="325.5" y="1335.7" text-anchor="end">20°S</text>
<text x="624.9" y="1413.8" text-anchor="middle">60°E</text>
<text x="1060.2" y="1413.8" text-anchor="middle">80°E</text>
<text x="1495.6" y="1413.8" text-anchor="middle">100°E</text>
<text x="951.7" y="1491.4" text-anchor="middle" font-size="72.8">Longitude</text>
<text transform="translate(145.0,766.4) rotate(-90)" text-anchor="middle" font-size="73.5">Latitude</text>
</g>
<text x="382.1" y="158.3" font-size="108" fill="#1a1a1a">(c)</text>
<text x="508.3" y="158.0" font-size="79.76" fill="#1a1a1a">La Niña/Negative IOD Years</text>
<line x1="352.8" y1="874.7" x2="1549.3" y2="879.7" stroke="#929218" stroke-width="3.6"/>
<g fill="#db665e">
<polygon points="443.9,775.9 499.8,780.5 495.3,786.1 525.0,779.2 496.8,767.6 500.4,773.9 444.5,769.3"/>
<polygon points="556.1,783.3 610.4,788.1 605.9,793.7 635.6,787.0 607.5,775.2 611.0,781.5 556.7,776.7"/>
<polygon points="668.0,793.7 721.6,793.7 717.6,799.6 746.6,790.4 717.6,781.1 721.6,787.1 668.0,787.1"/>
<polygon points="779.7,793.7 832.5,793.4 828.5,799.4 857.5,790.0 828.5,780.9 832.5,786.8 779.7,787.1"/>
<polygon points="888.5,793.1 942.5,793.1 938.5,799.0 967.5,789.8 938.5,780.5 942.5,786.5 888.5,786.5"/>
<polygon points="1001.0,793.7 1061.5,785.0 1058.4,791.5 1085.8,778.2 1055.8,773.1 1060.6,778.5 1000.0,787.1"/>
<polygon points="1117.2,785.8 1195.5,775.6 1192.3,782.0 1219.9,769.1 1189.9,763.7 1194.7,769.0 1116.4,779.2"/>
<polygon points="445.3,997.4 502.9,986.4 500.1,993.0 526.8,978.4 496.6,974.8 501.6,979.9 444.1,991.0"/>
<polygon points="551.9,981.7 613.2,973.3 610.0,979.8 637.5,966.7 607.5,961.4 612.3,966.8 551.1,975.1"/>
<polygon points="669.8,972.3 723.8,972.3 719.8,978.2 748.8,969.0 719.8,959.8 723.8,965.7 669.8,965.7"/>
<polygon points="781.4,972.3 835.5,971.6 831.6,977.6 860.5,968.0 831.4,959.1 835.5,965.0 781.4,965.7"/>
<polygon points="890.7,971.3 944.5,971.0 940.5,977.0 969.5,967.6 940.5,958.5 944.5,964.4 890.7,964.7"/>
<polygon points="1002.2,970.7 1066.3,978.1 1061.6,983.6 1091.5,977.7 1063.8,965.2 1067.0,971.5 1003.0,964.1"/>
<polygon points="1118.2,979.3 1189.5,985.7 1185.0,991.2 1214.7,984.6 1186.6,972.8 1190.1,979.1 1118.8,972.7"/>
<polygon points="446.1,820.8 537.3,832.9 531.3,840.6 575.6,833.4 534.7,814.8 538.5,823.8 447.3,811.6"/>
<polygon points="602.9,838.0 695.9,839.8 690.8,848.1 734.0,836.0 691.3,822.1 696.1,830.6 603.1,828.8"/>
<polygon points="765.4,840.4 854.8,840.4 849.8,848.8 892.8,835.8 849.8,822.8 854.8,831.2 765.4,831.2"/>
<polygon points="925.0,840.4 1014.6,840.0 1009.7,848.5 1052.6,835.3 1009.5,822.5 1014.6,830.8 925.0,831.2"/>
<polygon points="1084.6,841.4 1180.7,828.0 1176.9,837.0 1217.7,818.2 1173.3,811.2 1179.4,818.9 1083.4,832.2"/>
<polygon points="452.5,951.4 538.5,940.6 534.5,949.5 575.6,931.3 531.3,923.7 537.3,931.5 451.3,942.2"/>
<polygon points="603.9,937.6 696.3,929.5 692.1,938.3 733.8,921.6 689.8,912.4 695.5,920.3 603.1,928.4"/>
<polygon points="765.2,928.0 855.0,928.0 850.0,936.4 893.0,923.4 850.0,910.4 855.0,918.8 765.2,918.8"/>
<polygon points="924.5,927.8 1015.0,927.5 1010.0,935.9 1053.0,922.8 1010.0,909.9 1015.0,918.3 924.5,918.6"/>
<polygon points="1083.5,927.3 1176.7,938.3 1170.8,946.1 1215.0,938.2 1173.8,920.2 1177.8,929.2 1084.5,918.1"/>
<polygon points="1248.0,824.7 1368.1,805.7 1364.2,813.5 1401.0,796.3 1360.7,791.3 1366.8,797.6 1246.8,816.7"/>
<polygon points="1246.4,947.4 1359.4,974.5 1352.9,980.2 1393.4,978.4 1358.1,958.4 1361.3,966.5 1248.4,939.4"/>
<polygon points="451.9,881.0 550.3,881.5 543.2,891.5 601.3,875.8 543.4,859.5 550.3,869.5 451.9,869.0"/>
<polygon points="1286.9,885.3 1389.4,885.6 1381.5,896.1 1439.8,879.8 1381.7,863.1 1389.4,873.6 1286.9,873.3"/>
</g>
<rect x="611.5" y="846.9" width="660.5" height="66.7" fill="#d6655d"/>
<text x="939.4" y="901.7" font-size="74.6" text-anchor="middle" fill="#141414">Strong westerly wind</text>
<ellipse cx="1279.5" cy="681.9" rx="60.6" ry="55" fill="#d42e23"/>
<path d="M1262.5,764.9 A77,77 0 1 0 1230.1,624.8" fill="none" stroke="#e2716b" stroke-width="5.5"/><polygon points="1232.7,612.9 1211.8,634.9 1241.4,628.3 1232.2,623.3" fill="#e2716b"/>
<text x="1277.2" y="709.5" font-size="77" text-anchor="middle" fill="#141414">RV</text>
<ellipse cx="1274.8" cy="1081.7" rx="60.6" ry="55" fill="#d42e23"/>
<path d="M1262.5,1002.5 A73.8,73.8 0 1 1 1231.5,1136.8" fill="none" stroke="#e2716b" stroke-width="5.5"/><polygon points="1242.5,1133.2 1213.0,1126.5 1233.9,1148.5 1233.4,1138.1" fill="#e2716b"/>
<text x="1276.6" y="1113.0" font-size="77" text-anchor="middle" fill="#141414">RV</text>
</g>
<rect x="2528.6" y="1548.6" width="2033.4" height="167.7" fill="#f6f6f6" stroke="#3a3a3a" stroke-width="3.5"/>
<g fill="#1a1a1a">
<text x="2563.2" y="1657.6" font-size="79.5">Relative vorticity</text>
<text x="3359" y="1654.8" font-size="78.1">Weak</text>
<text x="3767.3" y="1653.4" font-size="80">Moderate</text>
<text x="4302" y="1654.6" font-size="81">Strong</text>
</g>
<ellipse cx="3250.4" cy="1625.4" rx="60" ry="55" fill="#e6e878"/>
<ellipse cx="3666.6" cy="1624.8" rx="60" ry="54.5" fill="#cf822c"/>
<ellipse cx="4207.6" cy="1626.4" rx="60" ry="54.2" fill="#bb221e"/>
</svg></body></html>
